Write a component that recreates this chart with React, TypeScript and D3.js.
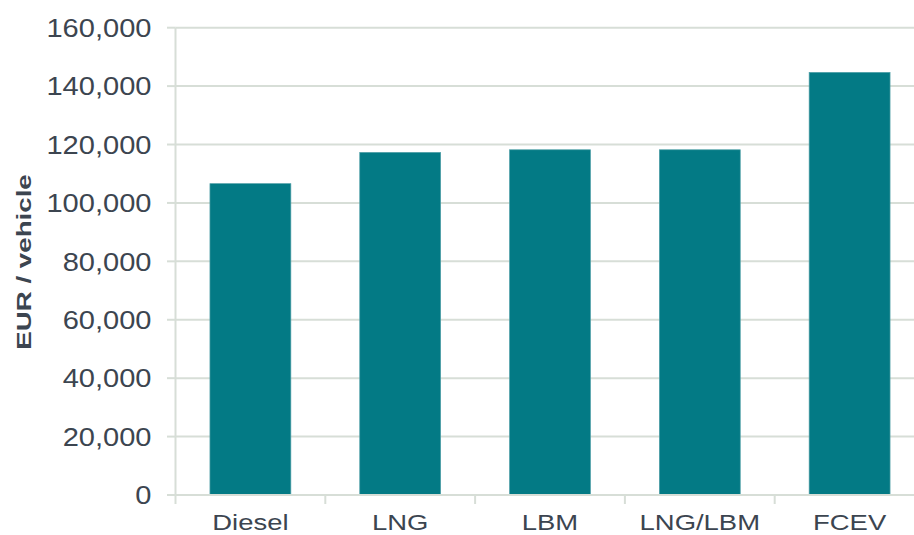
import React from "react";
import * as d3 from "d3";

// Vehicle purchase cost by powertrain
const categories: string[] = ["Diesel", "LNG", "LBM", "LNG/LBM", "FCEV"];
const costs: number[] = [106600, 117300, 118200, 118200, 144700];
const yTicks: number[] = [0, 20000, 40000, 60000, 80000, 100000, 120000, 140000, 160000];
const yTitle = "EUR / vehicle";

const W = 914;
const H = 535;
const plot = { left: 175.5, right: 924.5, top: 27.7, bottom: 495 };

const BAR = "#037a85";
const GRID = "#d7ded7";
const TEXT = "#3c4550";
const FONT = "'Liberation Sans', Arial, Helvetica, sans-serif";

export default function App() {
  const x = d3
    .scaleBand<string>()
    .domain(categories)
    .range([plot.left, plot.right])
    .paddingInner(0.46)
    .paddingOuter(0.23);

  const y = d3.scaleLinear().domain([0, 160000]).range([plot.bottom, plot.top]);
  const fmt = d3.format(",");

  const step = x.step();
  const boundaries = d3.range(categories.length + 1).map((i) => plot.left + i * step);

  return (
    <svg
      width={W}
      height={H}
      viewBox={`0 0 ${W} ${H}`}
      style={{ position: "absolute", left: 0, top: 0, background: "#fff" }}
    >
      {/* horizontal gridlines */}
      {yTicks.map((t) => (
        <line
          key={`g${t}`}
          x1={plot.left}
          x2={W}
          y1={y(t)}
          y2={y(t)}
          stroke={GRID}
          strokeWidth={2}
        />
      ))}

      {/* bars */}
      {categories.map((c, i) => (
        <rect
          key={c}
          x={x(c)!}
          y={y(costs[i])}
          width={x.bandwidth()}
          height={y(0) - y(costs[i])}
          fill={BAR}
          stroke="#4f9fa7"
          strokeWidth={0.7}
        />
      ))}

      {/* y axis */}
      <line x1={plot.left} x2={plot.left} y1={plot.top} y2={plot.bottom} stroke={GRID} strokeWidth={2} />
      {yTicks.map((t) => (
        <g key={`yt${t}`}>
          <line x1={plot.left - 8.5} x2={plot.left} y1={y(t)} y2={y(t)} stroke={GRID} strokeWidth={2} />
          <g transform={`translate(151.5,${y(t) + 9.2}) scale(1.14,1)`}>
            <text textAnchor="end" fontFamily={FONT} fontSize={25.5} fill={TEXT}>
              {fmt(t)}
            </text>
          </g>
        </g>
      ))}

      {/* x axis */}
      <line x1={plot.left - 8.5} x2={W} y1={plot.bottom} y2={plot.bottom} stroke={GRID} strokeWidth={2} />
      {boundaries.map((bx, i) => (
        <line key={`xt${i}`} x1={bx} x2={bx} y1={plot.bottom} y2={plot.bottom + 9} stroke={GRID} strokeWidth={2} />
      ))}
      {categories.map((c) => (
        <g key={`xl${c}`} transform={`translate(${x(c)! + x.bandwidth() / 2},529.5) scale(1.22,1)`}>
          <text textAnchor="middle" fontFamily={FONT} fontSize={22.5} fill={TEXT}>
            {c}
          </text>
        </g>
      ))}

      {/* y axis title */}
      <g transform={`translate(31,262) rotate(-90) scale(1.32,1)`}>
        <text textAnchor="middle" fontFamily={FONT} fontSize={21} fontWeight="bold" fill={TEXT}>
          {yTitle}
        </text>
      </g>
    </svg>
  );
}
